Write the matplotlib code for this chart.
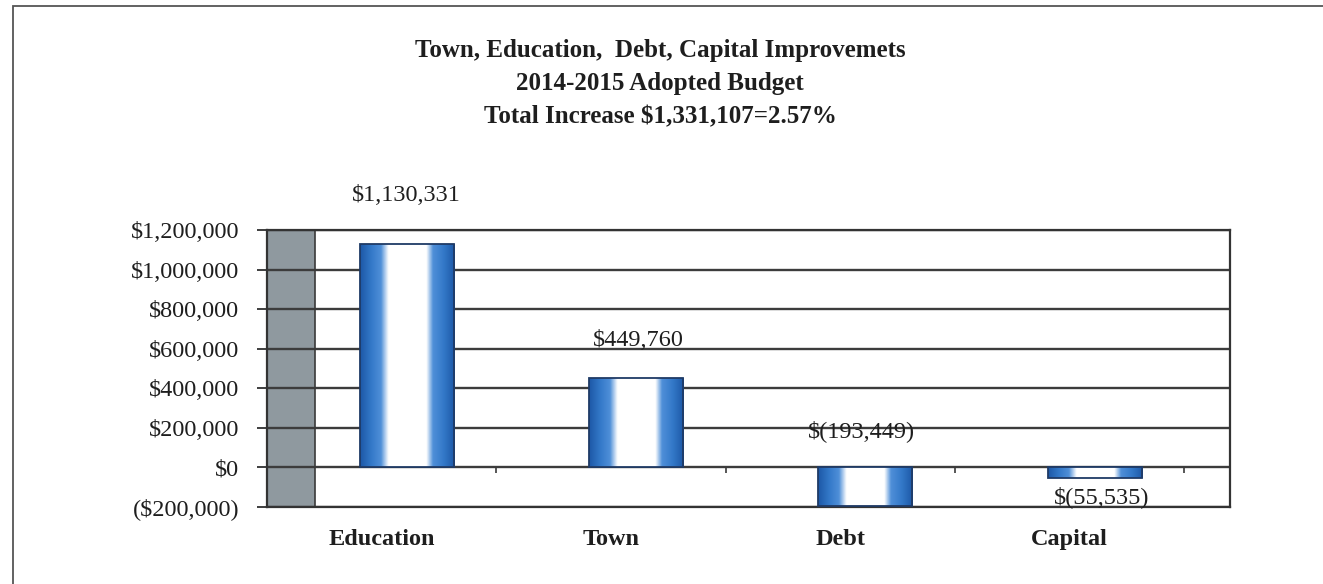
import numpy as np
import matplotlib
matplotlib.use("Agg")
import matplotlib.pyplot as plt
from matplotlib.colors import LinearSegmentedColormap
from matplotlib.patches import Rectangle
from matplotlib.ticker import FuncFormatter

plt.rcParams['font.family'] = ['Liberation Serif', 'DejaVu Serif']

# data
categories = ['Education', 'Town', 'Debt', 'Capital']
changes = [1130331, 449760, -193449, -55535]
y_ticks = [-200000, 0, 200000, 400000, 600000, 800000, 1000000, 1200000]
title_lines = ['Town, Education,  Debt, Capital Improvemets',
               '2014-2015 Adopted Budget',
               'Total Increase $1,331,107=2.57%']

W, H = 1323, 584
fig = plt.figure(figsize=(W / 100, H / 100), dpi=100)

# outer border (only top and left visible, rest cut off)
fig.patches.append(Rectangle((13 / W, -0.1), 1.2, 1.1 - 6 / H,
                             transform=fig.transFigure, fill=False,
                             edgecolor='#555555', lw=1.3))

ax = fig.add_axes([267 / W, 1 - 507 / H, (1230 - 267) / W, (507 - 230) / H])

x = np.arange(len(categories))
shift = 0.11     # 3d depth offset of the bars
bw = 0.41

# grey side wall
ax.axvspan(-0.5, -0.29, color='#8f999f', zorder=0.5, lw=0)
ax.axvline(-0.29, color='#3a3a3a', lw=1.2, zorder=0.6)

ax.yaxis.grid(True, color='#3c3c3c', lw=1.7, zorder=1)
ax.set_axisbelow(True)

bars = ax.bar(x + shift, changes, width=bw, color='#3a7cc8',
              edgecolor='#1f3a66', lw=1.3, zorder=2)

cmap = LinearSegmentedColormap.from_list('barshade', [
    (0.0, '#1d58a6'), (0.12, '#3479c9'), (0.22, '#4f8fd8'),
    (0.30, '#ffffff'), (0.70, '#ffffff'), (0.77, '#4f8fd8'),
    (0.88, '#3479c9'), (1.0, '#1d58a6')])
grad = np.linspace(0, 1, 256).reshape(1, -1)
for b in bars:
    x0, y0 = b.get_x(), b.get_y()
    im = ax.imshow(grad, extent=[x0, x0 + b.get_width(), y0, y0 + b.get_height()],
                   aspect='auto', cmap=cmap, zorder=2.5, interpolation='bilinear')
    im.set_clip_path(b)
    b.set_facecolor('none')
    b.set_zorder(3)

# small ticks on the zero line between categories
ax.vlines(x + 0.5, -26000, 0, color='#3a3a3a', lw=1.2, zorder=3)

ax.set_xlim(-0.5, 3.70)
ax.set_ylim(-200000, 1200000)

ax.set_yticks(y_ticks)
def money(v, pos=None):
    if v < 0:
        return '(${:,.0f})'.format(-v)
    return '${:,.0f}'.format(v)
ax.yaxis.set_major_formatter(FuncFormatter(money))
ax.tick_params(axis='y', length=7, width=1.2, pad=13, labelsize=17.5,
               colors='#1e1e1e')

ax.set_xticks(x)
ax.set_xticklabels(categories, fontweight='bold', fontsize=17.5, color='#1e1e1e')
ax.tick_params(axis='x', length=0, pad=16)

for s in ax.spines.values():
    s.set_color('#333333')
    s.set_linewidth(1.6)

# data labels
def lab(v):
    if v < 0:
        return '$({:,.0f})'.format(-v)
    return '${:,.0f}'.format(v)
offsets = [(0, 48), (2, 38), (-4, 75), (7, -19)]
for b, v, (dx, dy) in zip(bars, changes, offsets):
    ax.annotate(lab(v), (b.get_x() + b.get_width() / 2, v),
                xytext=(dx * 0.72, dy * 0.72), textcoords='offset points',
                ha='center', va='center', fontsize=17.5, color='#1e1e1e',
                annotation_clip=False, zorder=4)

fig.text(660 / W, 1 - 83.5 / H, '\n'.join(title_lines), ha='center', va='center',
         multialignment='center', fontsize=18, fontweight='bold',
         linespacing=1.55, color='#1e1e1e')

fig.savefig('out.png', dpi=100)
